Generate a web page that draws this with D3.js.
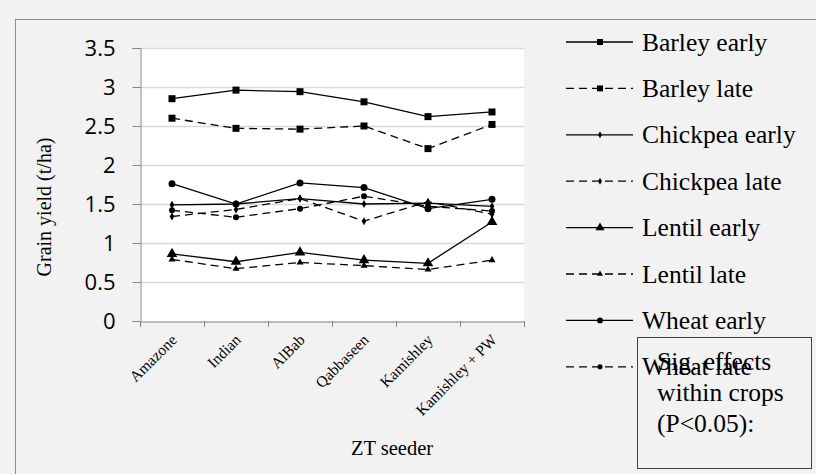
<!DOCTYPE html>
<html><head><meta charset="utf-8">
<script src="https://cdn.jsdelivr.net/npm/d3@7/dist/d3.min.js"></script>
<style>
html,body{margin:0;padding:0;background:#f2f2f2;}
svg{display:block;}
</style></head>
<body>
<svg id="chart" width="816" height="474"></svg>
<script>
const categories = ["Amazone","Indian","AlBab","Qabbaseen","Kamishley","Kamishley + PW"];
const barleyEarly   = [2.85, 2.96, 2.94, 2.81, 2.62, 2.68];
const barleyLate    = [2.60, 2.47, 2.46, 2.50, 2.21, 2.52];
const chickpeaEarly = [1.49, 1.50, 1.57, 1.50, 1.51, 1.47];
const chickpeaLate  = [1.34, 1.43, 1.57, 1.28, 1.53, 1.37];
const lentilEarly   = [0.86, 0.76, 0.88, 0.78, 0.74, 1.27];
const lentilLate    = [0.79, 0.67, 0.75, 0.71, 0.66, 0.78];
const wheatEarly    = [1.76, 1.50, 1.77, 1.71, 1.44, 1.56];
const wheatLate     = [1.42, 1.33, 1.44, 1.60, 1.47, 1.41];
const yTicks = [0, 0.5, 1, 1.5, 2, 2.5, 3, 3.5];
const seriesNames = ["Barley early","Barley late","Chickpea early","Chickpea late","Lentil early","Lentil late","Wheat early","Wheat late"];
const yTitle = "Grain yield  (t/ha)";
const xTitle = "ZT seeder";
const noteLines = ["Sig. effects","within crops","(P<0.05):"];

const series = [
  {name: seriesNames[0], values: barleyEarly,   dash: null,  marker: "square",   size: 7},
  {name: seriesNames[1], values: barleyLate,    dash: "8,5", marker: "square",   size: 7},
  {name: seriesNames[2], values: chickpeaEarly, dash: null,  marker: "diamond",  size: 5},
  {name: seriesNames[3], values: chickpeaLate,  dash: "8,5", marker: "diamond",  size: 5},
  {name: seriesNames[4], values: lentilEarly,   dash: null,  marker: "triangle", size: 9},
  {name: seriesNames[5], values: lentilLate,    dash: "8,5", marker: "triangle", size: 6},
  {name: seriesNames[6], values: wheatEarly,    dash: null,  marker: "circle",   size: 7},
  {name: seriesNames[7], values: wheatLate,     dash: "8,5", marker: "circle",   size: 6}
];

const svg = d3.select("#chart");
const W = 816, H = 474;
const plot = {left: 140, right: 524, top: 48, bottom: 321};

// chart area border
svg.append("rect").attr("x", 15.5).attr("y", 19.5).attr("width", W).attr("height", H)
  .attr("fill", "#f2f2f2").attr("stroke", "#8c8c8c").attr("stroke-width", 1);

// plot area
svg.append("rect").attr("x", plot.left).attr("y", plot.top)
  .attr("width", plot.right - plot.left).attr("height", plot.bottom - plot.top)
  .attr("fill", "#ffffff");

const x = d3.scaleBand().domain(categories).range([plot.left, plot.right]);
const y = d3.scaleLinear().domain([0, 3.5]).range([plot.bottom, plot.top]);

// gridlines
svg.append("g").selectAll("line").data(yTicks.filter(d => d > 0)).join("line")
  .attr("x1", plot.left).attr("x2", plot.right)
  .attr("y1", d => Math.round(y(d)) + 0.5).attr("y2", d => Math.round(y(d)) + 0.5)
  .attr("stroke", "#d9d9d9").attr("stroke-width", 1.3);

// y axis
const yAxis = d3.axisLeft(y).tickValues(yTicks).tickSize(8).tickPadding(17)
  .tickFormat(d => String(d));
const gy = svg.append("g").attr("transform", `translate(${plot.left + 0.5},0)`).call(yAxis);
gy.select(".domain").attr("stroke", "#868686");
gy.selectAll(".tick line").attr("stroke", "#868686");
gy.selectAll(".tick text").attr("font-family", "'Open Sans', 'Liberation Sans', sans-serif")
  .attr("font-size", 22).attr("fill", "#000").attr("dy", "0.35em");

// x axis
const xAxis = d3.axisBottom(x).tickSize(0).tickFormat(() => "");
const gx = svg.append("g").attr("transform", `translate(0,${plot.bottom + 0.5})`).call(xAxis);
gx.select(".domain").attr("stroke", "#868686");
// boundary ticks
const bounds = categories.map(c => x(c)).concat([plot.right]);
svg.append("g").selectAll("line").data(bounds).join("line")
  .attr("x1", d => d + 0.5).attr("x2", d => d + 0.5)
  .attr("y1", plot.bottom).attr("y2", plot.bottom + 6)
  .attr("stroke", "#868686").attr("stroke-width", 1);

// x labels rotated
svg.append("g").selectAll("text").data(categories).join("text")
  .attr("transform", d => `translate(${x(d) + x.bandwidth()/2 + 2},${plot.bottom + 16}) rotate(-45)`)
  .attr("text-anchor", "end").attr("dy", "0.35em")
  .attr("font-family", "'Liberation Serif', 'Times New Roman', serif").attr("font-size", 15.5)
  .attr("fill", "#000").text(d => d);

// axis titles
svg.append("text").attr("x", 392).attr("y", 455).attr("text-anchor", "middle")
  .attr("font-family", "'Liberation Serif', serif").attr("font-size", 20.5).text(xTitle);
svg.append("text").attr("transform", "translate(51,207) rotate(-90)").attr("text-anchor", "middle")
  .attr("font-family", "'Liberation Serif', serif").attr("font-size", 20).text(yTitle);

// markers
function drawMarker(g, type, size, cx, cy) {
  let sym;
  if (type === "square") sym = d3.symbol(d3.symbolSquare, size * size);
  else if (type === "diamond") sym = d3.symbol(d3.symbolDiamond, size * size * 0.75);
  else if (type === "triangle") sym = d3.symbol(d3.symbolTriangle, size * size * 0.6);
  else sym = d3.symbol(d3.symbolCircle, Math.PI * (size/2) * (size/2));
  g.append("path").attr("d", sym).attr("transform", `translate(${cx},${cy})`).attr("fill", "#000");
}

const line = d3.line().x((d, i) => x(categories[i]) + x.bandwidth()/2).y(d => y(d));
const gSeries = svg.append("g");
series.forEach(s => {
  gSeries.append("path").datum(s.values).attr("d", line)
    .attr("fill", "none").attr("stroke", "#000").attr("stroke-width", 1.3)
    .attr("stroke-dasharray", s.dash);
  s.values.forEach((v, i) => drawMarker(gSeries, s.marker, s.size, x(categories[i]) + x.bandwidth()/2, y(v)));
});

// legend
const legY0 = 42, legStep = 46.4;
const gLeg = svg.append("g");
series.forEach((s, i) => {
  const ly = legY0 + i * legStep;
  gLeg.append("line").attr("x1", 566).attr("x2", 633).attr("y1", ly).attr("y2", ly)
    .attr("stroke", "#000").attr("stroke-width", 1.3).attr("stroke-dasharray", s.dash);
  drawMarker(gLeg, s.marker, s.size * 0.85, 600, ly);
  gLeg.append("text").attr("x", 642).attr("y", ly + 8.5)
    .attr("font-family", "'Liberation Serif', serif").attr("font-size", 25.5).attr("fill", "#000").text(s.name);
});

// significance note box
svg.append("rect").attr("x", 637.5).attr("y", 337.5).attr("width", 174).attr("height", 131)
  .attr("fill", "none").attr("stroke", "#404040").attr("stroke-width", 1);
svg.append("g").selectAll("text").data(noteLines).join("text")
  .attr("x", 657).attr("y", (d, i) => 370 + i * 31)
  .attr("font-family", "'Liberation Serif', serif").attr("font-size", 25.5).attr("fill", "#000").text(d => d);
</script>
</body></html>
